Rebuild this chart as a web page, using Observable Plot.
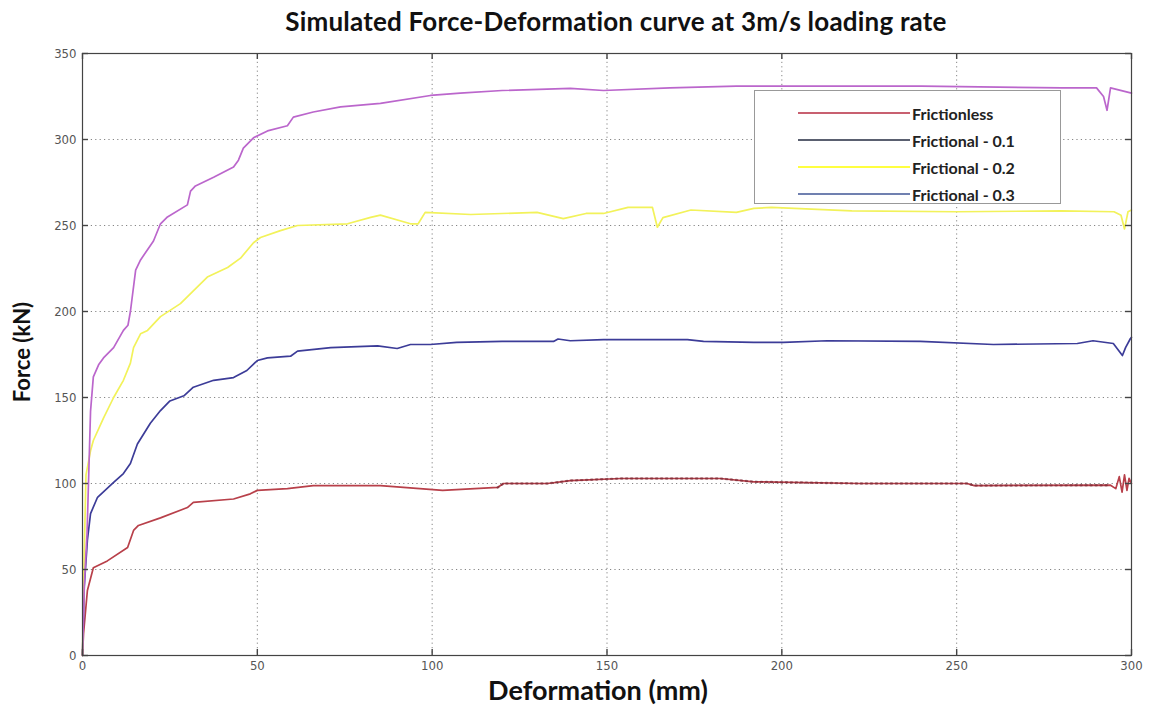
<!DOCTYPE html>
<html>
<head>
<meta charset="utf-8">
<script src="https://cdn.jsdelivr.net/npm/d3@7"></script>
<script src="https://cdn.jsdelivr.net/npm/@observablehq/plot@0.6"></script>
<style>
  html, body { margin: 0; padding: 0; background: #fff; }
  #wrap { position: relative; width: 1151px; height: 716px; overflow: hidden; background: #fff; }
  #title { position: absolute; top: 5px; left: 616px; transform: translateX(-50%); white-space: nowrap;
           font: bold 26px Lato, "Open Sans", sans-serif; letter-spacing: 0.2px; color: #111; }
  #chart { position: absolute; top: 40px; left: 0; }
  #ylabel { position: absolute; left: 21px; top: 352px; transform: translate(-50%, -50%) rotate(-90deg);
            white-space: nowrap; font: bold 22px Lato, "Open Sans", sans-serif; color: #111; }
  #xlabel { position: absolute; left: 598px; top: 673px; transform: translateX(-50%); white-space: nowrap;
            font: bold 27px Lato, "Open Sans", sans-serif; color: #111; }
  #legend { position: absolute; left: 754px; top: 90px; width: 307px; height: 114px; background: #fff;
            border: 1px solid #999; box-sizing: border-box; }
  .row { position: absolute; left: 0; height: 26px; display: flex; align-items: center; }
  .sw { width: 112px; height: 0; border-top: 2px solid; margin-left: 43px; }
  .lt { font: bold 16px Lato, "Open Sans", sans-serif; color: #222; margin-left: 2px; white-space: nowrap; }
</style>
</head>
<body>
<div id="wrap">
  <div id="title">Simulated Force-Deformation curve at 3m/s loading rate</div>
  <div id="chart"></div>
  <div id="ylabel">Force (kN)</div>
  <div id="xlabel">Deformation (mm)</div>
  <div id="legend"></div>
</div>
<script>
// ---- Data ----
const seriesNames = ["Frictionless", "Frictional - 0.1", "Frictional - 0.2", "Frictional - 0.3"];
const curveColors  = ["#b8404a", "#3c3c98", "#f2f25a", "#bb66cc"];
const legendColors = ["#c86070", "#5a6070", "#ffff40", "#7080b0"];
const xTicks = [0, 50, 100, 150, 200, 250, 300];
const yTicks = [0, 50, 100, 150, 200, 250, 300, 350];

const frictionlessX = [0, 0.3, 1.4, 3.1, 7.1, 12.9, 14.6, 16, 22.3, 30, 31.7, 43.2, 48, 50, 58.6, 66, 85.2, 91.8, 103, 118.7, 120.4, 133, 139.5, 154, 182.4, 192, 222.5, 253, 255, 294, 295.5, 296.5, 297.3, 298, 298.7, 299.3, 300];
const frictionlessY = [0, 12.8, 37.8, 51, 55, 62.8, 72.7, 75.6, 80, 86, 89, 91, 94, 96, 97, 98.8, 98.8, 97.7, 96, 97.7, 100, 100, 101.7, 102.9, 102.9, 101, 100, 100, 98.8, 99, 97, 104, 95, 105, 96, 103, 100];

const frictional01X = [0, 0.5, 1.4, 2.3, 4.3, 8.9, 11.7, 13.7, 15.7, 19.4, 22.3, 25, 29, 31.7, 37.5, 43.2, 47, 50, 52.9, 59.5, 61.5, 71, 84.4, 90, 93.8, 99.5, 107, 120, 134.7, 136, 139.5, 149, 173, 177.6, 192, 200.5, 213, 239.6, 260.5, 284.5, 289, 294.8, 297.4, 298.3, 299.7, 300];
const frictional01Y = [0, 40, 67, 82.5, 92, 100.6, 105.8, 111.6, 123, 135, 142.4, 148, 151, 156, 160, 161.6, 165.7, 171.5, 173, 174, 177, 179, 180, 178.5, 180.8, 180.8, 182, 182.6, 182.6, 184, 183, 183.7, 183.7, 182.6, 182, 182, 183, 182.6, 180.8, 181.4, 183, 181.4, 174.4, 179, 184.3, 185];

const frictional02X = [0, 0.5, 1, 2.3, 3.1, 6, 8.9, 11.7, 13.7, 14.6, 16.6, 18.6, 22.3, 28, 31.7, 35.7, 41.5, 45.2, 48.9, 50.9, 56.6, 61.5, 75.8, 82.4, 85.2, 93.8, 96, 98, 111, 130, 137.5, 144, 149, 156, 163, 164.4, 166, 174, 187, 192, 197, 220, 250, 280, 295, 297, 298, 299, 300];
const frictional02Y = [0, 60, 105, 119, 125, 138, 150, 160, 170, 179, 187, 189, 197, 204.6, 212, 220, 225.6, 231, 240, 243, 247, 250, 251, 254.7, 256, 251, 251, 257.6, 256.4, 257.6, 254, 257, 257, 260.5, 260.5, 249, 254.6, 259, 257.6, 260, 260.5, 258.5, 258, 258.5, 258, 256, 248, 258, 259];

const frictional03X = [0, 0.5, 1.3, 2.3, 3.1, 4.6, 6, 8.9, 11.7, 13, 13.7, 15.2, 16.6, 20.3, 22.3, 24.3, 30, 30.9, 32.3, 37.5, 43.2, 44.6, 46, 48.9, 52.9, 58.6, 60.3, 66, 73.8, 85.2, 99.5, 108, 120, 139.5, 149, 168, 187, 200, 240, 280, 290, 292, 293, 294, 296, 298, 300];
const frictional03Y = [0, 40, 71, 142, 162, 169, 173, 179, 189, 192, 200, 224, 230, 241, 251, 255, 262, 270, 273, 278, 284, 288, 295, 301, 305, 308, 313, 316, 319, 321, 325.6, 327, 328.5, 329.7, 328.5, 330, 331, 331, 331, 330, 330, 325, 317, 330, 329, 328, 327];

const seriesX = [frictionlessX, frictional01X, frictional02X, frictional03X];
const seriesY = [frictionlessY, frictional01Y, frictional02Y, frictional03Y];
const rows = seriesNames.flatMap((name, k) => seriesX[k].map((x, i) => ({series: name, x, y: seriesY[k][i]})));
// dark markers visible along the frictionless curve in its flat part
const redMarked = rows.filter(d => d.series === "Frictionless" && d.x >= 118 && d.x <= 294);

const fontTicks = '"Liberation Sans Narrow", "DejaVu Sans Condensed", "Liberation Sans", sans-serif';
const tickCol = "#444";

const W = 1151, H = 676, mL = 82, mR = 20, mT = 13, mB = 61;
const frameW = W - mL - mR, frameH = H - mT - mB;
const tl = 6; // inward tick length (px)

const chart = Plot.plot({
  width: W,
  height: H,
  marginLeft: mL,
  marginRight: mR,
  marginTop: mT,
  marginBottom: mB,
  style: {fontFamily: fontTicks, fontSize: "13px", color: "#555", background: "transparent", overflow: "visible"},
  x: {domain: [0, 300]},
  y: {domain: [0, 350]},
  color: {domain: seriesNames, range: curveColors},
  marks: [
    Plot.gridX(xTicks, {stroke: "#666", strokeOpacity: 0.8, strokeDasharray: "1.2,3.2"}),
    Plot.gridY(yTicks, {stroke: "#666", strokeOpacity: 0.8, strokeDasharray: "1.2,3.2"}),
    Plot.line(rows, {x: "x", y: "y", z: "series", stroke: "series", strokeWidth: 1.7, curve: "linear"}),
    Plot.line(redMarked, {x: "x", y: "y", stroke: "#6a2230", strokeWidth: 2.4, strokeOpacity: 0.55, strokeDasharray: "1,4"}),
    Plot.frame({stroke: tickCol, strokeWidth: 1.2}),
    // inward ticks on all four sides (MATLAB box style)
    Plot.tickX(xTicks, {x: d => d, insetTop: frameH - tl, stroke: tickCol, strokeWidth: 1.4}),
    Plot.tickX(xTicks, {x: d => d, insetBottom: frameH - tl, stroke: tickCol, strokeWidth: 1.4}),
    Plot.tickY(yTicks, {y: d => d, insetRight: frameW - tl, stroke: tickCol, strokeWidth: 1.4}),
    Plot.tickY(yTicks, {y: d => d, insetLeft: frameW - tl, stroke: tickCol, strokeWidth: 1.4}),
    Plot.axisX(xTicks, {anchor: "bottom", tickSize: 0, tickPadding: 5, label: null, fill: "#555"}),
    Plot.axisY(yTicks, {anchor: "left", tickSize: 0, tickPadding: 6, label: null, fill: "#555"})
  ]
});
document.getElementById("chart").appendChild(chart);

// Legend
const legend = document.getElementById("legend");
seriesNames.forEach((name, i) => {
  const row = document.createElement("div");
  row.className = "row";
  row.style.top = (9 + i * 27) + "px";
  const sw = document.createElement("div");
  sw.className = "sw";
  sw.style.borderTopColor = legendColors[i];
  const lt = document.createElement("div");
  lt.className = "lt";
  lt.textContent = name;
  row.appendChild(sw);
  row.appendChild(lt);
  legend.appendChild(row);
});
</script>
</body>
</html>
